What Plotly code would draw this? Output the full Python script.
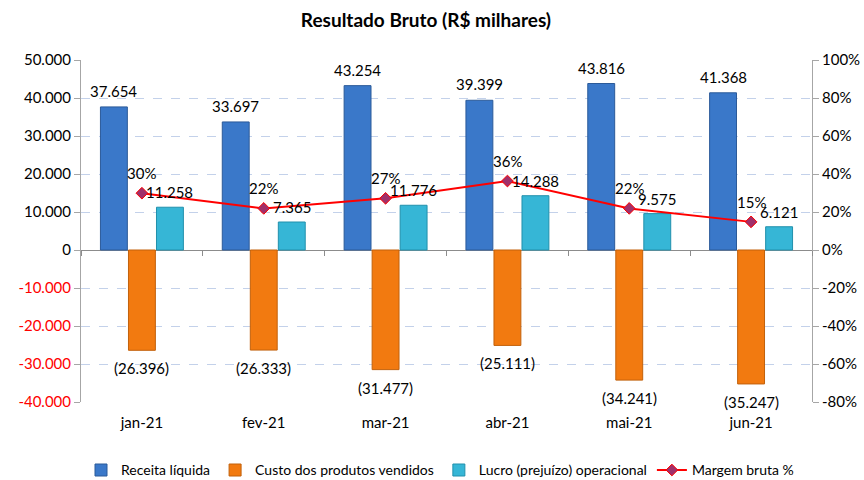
import plotly.graph_objects as go

months = ["jan-21", "fev-21", "mar-21", "abr-21", "mai-21", "jun-21"]
receita = [37654, 33697, 43254, 39399, 43816, 41368]
custo = [-26396, -26333, -31477, -25111, -34241, -35247]
lucro = [11258, 7365, 11776, 14288, 9575, 6121]
margem = [29.9, 21.9, 27.2, 36.3, 21.9, 14.8]

left_ticks = [-40000, -30000, -20000, -10000, 0, 10000, 20000, 30000, 40000, 50000]
right_ticks = [-80, -60, -40, -20, 0, 20, 40, 60, 80, 100]


def br(v):
    return f"{abs(v):,}".replace(",", ".")


left_text = [
    (f'<span style="color:#ff0000">-{br(v)}</span>' if v < 0 else br(v)) for v in left_ticks
]
right_text = [f"{v}%" for v in right_ticks]

FONT = "Lato"
W, H = 864, 480
ML, MR, MT, MB = 81, 52, 60, 78
BARGAP, GROUPGAP = 0.31, 0.04
plot_w = W - ML - MR
slot = plot_w / len(months) * (1 - BARGAP) / 3  # px width of each bar slot
YMIN, YMAX = left_ticks[0], left_ticks[-1]
zero_pos = (0 - YMIN) / (YMAX - YMIN)

fig = go.Figure()
fig.add_trace(go.Bar(
    name="Receita líquida", x=months, y=receita,
    marker=dict(color="#3a78c9", line=dict(color="#2b5a99", width=1)),
))
fig.add_trace(go.Bar(
    name="Custo dos produtos vendidos", x=months, y=custo,
    marker=dict(color="#f27a10", line=dict(color="#c2610b", width=1)),
))
fig.add_trace(go.Bar(
    name="Lucro (prejuízo) operacional", x=months, y=lucro,
    marker=dict(color="#36b6d6", line=dict(color="#2190ac", width=1)),
))
fig.add_trace(go.Scatter(
    name="Margem bruta %", x=months, y=margem, xaxis="x2", yaxis="y2",
    mode="lines+markers",
    line=dict(color="#ff0000", width=2),
    marker=dict(symbol="diamond", size=9, color="#a0306a", line=dict(color="#ff0000", width=1)),
    cliponaxis=False,
))

annotations = []
lab_font = dict(size=15, color="#000000", family=FONT)
for m, r, c, l, p in zip(months, receita, custo, lucro, margem):
    annotations.append(dict(x=m, y=r, xref="x", yref="y", text=br(r), showarrow=False,
                            xshift=-slot, yshift=16, yanchor="middle", font=lab_font))
    annotations.append(dict(x=m, y=c, xref="x", yref="y", text=f"({br(c)})", showarrow=False,
                            xshift=0, yshift=-18, yanchor="middle", font=lab_font))
    annotations.append(dict(x=m, y=l, xref="x", yref="y", text=br(l), showarrow=False,
                            xshift=slot, yshift=15, yanchor="middle", font=lab_font))
    annotations.append(dict(x=m, y=p, xref="x", yref="y2", text=f"{round(p)}%", showarrow=False,
                            xshift=0, yshift=20, yanchor="middle", font=lab_font))

fig.update_layout(
    width=W, height=H,
    margin=dict(l=ML, r=MR, t=MT, b=MB, autoexpand=False),
    paper_bgcolor="white", plot_bgcolor="white",
    font=dict(family=FONT, size=15, color="#000000"),
    title=dict(text="<b>Resultado Bruto (R$ milhares)</b>", x=0.493, xanchor="center",
               y=0.958, yanchor="middle", font=dict(size=19, family=FONT)),
    barmode="group", bargap=BARGAP, bargroupgap=GROUPGAP,
    showlegend=True,
    legend=dict(orientation="h", x=0.0, xanchor="left", y=-0.2, yanchor="middle",
                font=dict(size=14, family=FONT), itemwidth=30, traceorder="normal"),
    annotations=annotations,
    xaxis=dict(showgrid=False, showline=False, ticks="", ticklabelstandoff=10,
               tickfont=dict(size=15), range=[-0.5, len(months) - 0.5]),
    xaxis2=dict(overlaying="x", anchor="free", position=zero_pos, side="bottom",
                range=[-0.5, len(months) - 0.5], showticklabels=False, showgrid=False,
                showline=False, zeroline=False, ticks="outside", tickson="boundaries",
                ticklen=5, tickcolor="#8c8c8c"),
    yaxis=dict(range=[YMIN, YMAX], tickvals=left_ticks, ticktext=left_text,
               showgrid=True, gridcolor="#c3d1ea", griddash="dash", gridwidth=1,
               zeroline=True, zerolinecolor="#8c8c8c", zerolinewidth=1,
               showline=True, linecolor="#a6a6a6", linewidth=1,
               ticks="outside", ticklen=6, tickcolor="#a6a6a6", tickfont=dict(size=15)),
    yaxis2=dict(range=[-80, 100], tickvals=right_ticks, ticktext=right_text,
                overlaying="y", side="right", showgrid=False, zeroline=False,
                showline=True, linecolor="#a6a6a6", linewidth=1,
                ticks="outside", ticklen=6, tickcolor="#a6a6a6", tickfont=dict(size=15)),
)

fig.write_html(
    "out.html",
    config={"displayModeBar": False},
    post_script="document.body.style.margin='0';document.body.style.overflow='hidden';",
)
